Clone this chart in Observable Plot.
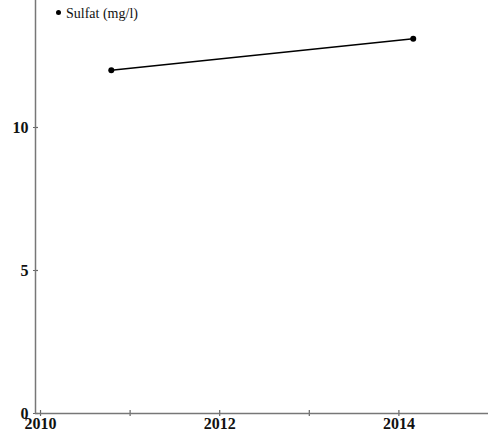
<!DOCTYPE html>
<html>
<head>
<meta charset="utf-8">
<script src="https://cdn.jsdelivr.net/npm/d3@7"></script>
<script src="https://cdn.jsdelivr.net/npm/@observablehq/plot@0.6"></script>
<style>
  html, body { margin: 0; padding: 0; background: #fff; }
  #wrap { position: relative; width: 488px; height: 437px; overflow: hidden; }
  #legend { position: absolute; left: 56px; top: 6px; font: 14px "Liberation Serif", "Times New Roman", serif; color: #111; }
  #legend span.dot { display: inline-block; width: 5px; height: 5px; border-radius: 50%; background: #000; margin-right: 5px; vertical-align: 3px; }
</style>
</head>
<body>
<div id="wrap">
  <div id="chart"></div>
  <div id="legend"></div>
</div>
<script>
const seriesName = "Sulfat (mg/l)";
const years = [2010.79, 2014.16];
const values = [12.0, 13.1];
const xTicks = [2010, 2011, 2012, 2013, 2014];
const xLabels = ["2010", "", "2012", "", "2014"];
const yTicks = [0, 5, 10];

const data = years.map((y, i) => ({year: y, value: values[i]}));
const labelOf = (t) => xLabels[xTicks.indexOf(t)];

const font = '"Liberation Serif", "Times New Roman", serif';
const plot = Plot.plot({
  width: 488,
  height: 437,
  marginLeft: 35,
  marginRight: 0,
  marginTop: 0,
  marginBottom: 24,
  style: {fontFamily: font, fontSize: "16px", fontWeight: "bold", color: "#111", background: "#fff"},
  x: {domain: [2009.944, 2015.0]},
  y: {domain: [0, 14.44]},
  marks: [
    Plot.axisX({ticks: xTicks, tickFormat: labelOf, tickSize: 3, tickPadding: 1, stroke: "#666", strokeWidth: 1.2, label: null, fontWeight: "bold"}),
    Plot.axisX({ticks: xTicks, tickFormat: () => "", tickSize: -3, stroke: "#666", strokeWidth: 1.2, label: null}),
    Plot.axisY({ticks: yTicks, tickSize: 2, tickPadding: 5, stroke: "#666", strokeWidth: 1.2, label: null, fontWeight: "bold"}),
    Plot.axisY({ticks: yTicks, tickFormat: () => "", tickSize: -3, stroke: "#666", strokeWidth: 1.2, label: null}),
    Plot.ruleY([0], {stroke: "#777", strokeWidth: 1.5}),
    Plot.ruleX([2009.944], {stroke: "#777", strokeWidth: 1.5}),
    Plot.line(data, {x: "year", y: "value", stroke: "#000", strokeWidth: 1.5}),
    Plot.dot(data, {x: "year", y: "value", r: 3, fill: "#000"})
  ]
});
document.getElementById("chart").appendChild(plot);
document.getElementById("legend").innerHTML = '<span class="dot"></span>' + seriesName;
</script>
</body>
</html>
